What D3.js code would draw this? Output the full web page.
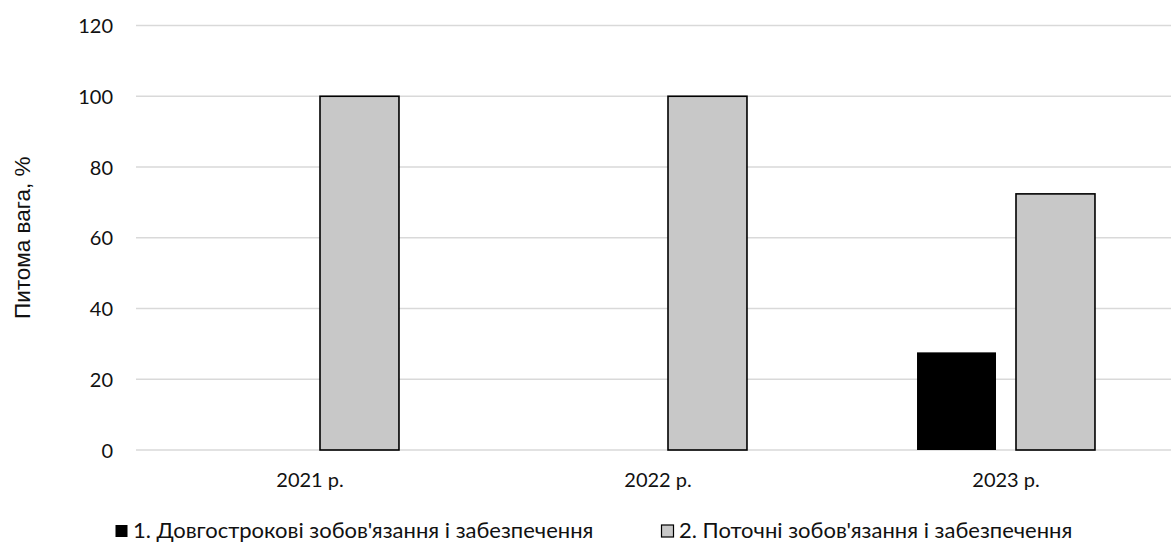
<!DOCTYPE html>
<html>
<head>
<meta charset="utf-8">
<script src="https://cdn.jsdelivr.net/npm/d3@7"></script>
<style>
  html, body { margin: 0; padding: 0; background: #fff; }
  svg { display: block; }
</style>
</head>
<body>
<svg id="chart" width="1171" height="544"></svg>
<script>
// Share of liabilities by type, %
const years = ["2021 р.", "2022 р.", "2023 р."];
const seriesNames = [
  "1. Довгострокові зобов'язання і забезпечення",
  "2. Поточні зобов'язання і забезпечення"
];
const longTerm = [0, 0, 27.6];
const current = [100, 100, 72.4];
const yTicks = [0, 20, 40, 60, 80, 100, 120];
const yTitle = "Питома вага, %";

const fills = ["#000000", "#c8c8c8"];
const tickFont = "Lato, 'Open Sans', sans-serif";

const svg = d3.select("#chart");
const W = 1171, H = 544;
const margin = { left: 136, right: -9, top: 25.5, bottom: 94 };

const x0 = d3.scaleBand()
  .domain(years)
  .range([margin.left, W - margin.right])
  .paddingInner(0)
  .paddingOuter(0);

const x1 = d3.scaleBand()
  .domain([0, 1])
  .range([0, x0.bandwidth()])
  .paddingInner(0.202)
  .paddingOuter(0.859);

const y = d3.scaleLinear()
  .domain([0, 120])
  .range([H - margin.bottom, margin.top]);

// horizontal grid
svg.append("g")
  .selectAll("line")
  .data(yTicks)
  .join("line")
  .attr("x1", margin.left)
  .attr("x2", W)
  .attr("y1", d => y(d))
  .attr("y2", d => y(d))
  .attr("stroke", "#d9d9d9")
  .attr("stroke-width", 1.3);

// y axis labels
const yAxis = d3.axisLeft(y).tickValues(yTicks).tickSize(0).tickPadding(0);
const gy = svg.append("g")
  .attr("transform", `translate(113,0)`)
  .call(yAxis);
gy.select(".domain").remove();
gy.selectAll("text")
  .attr("font-family", tickFont)
  .attr("font-size", 20)
  .attr("fill", "#111")
  .attr("dy", "0.36em");

// bars
const rows = years.map((yr, i) => ({ yr, vals: [longTerm[i], current[i]] }));
const groups = svg.append("g")
  .selectAll("g")
  .data(rows)
  .join("g")
  .attr("transform", d => `translate(${x0(d.yr)},0)`);

groups.selectAll("rect")
  .data(d => d.vals.map((v, k) => ({ v, k })).filter(e => e.v > 0))
  .join("rect")
  .attr("x", d => x1(d.k))
  .attr("width", x1.bandwidth())
  .attr("y", d => y(d.v))
  .attr("height", d => y(0) - y(d.v))
  .attr("fill", d => fills[d.k])
  .attr("stroke", "#000")
  .attr("stroke-width", d => d.k === 1 ? 1.6 : 0);

// x axis labels
const xAxis = d3.axisBottom(x0).tickSize(0).tickPadding(0);
const gx = svg.append("g")
  .attr("transform", `translate(0,${y(0) + 37})`)
  .call(xAxis);
gx.select(".domain").remove();
gx.selectAll("text")
  .attr("font-family", tickFont)
  .attr("font-size", 20)
  .attr("fill", "#111")
  .attr("dy", "0");

// y axis title
svg.append("text")
  .attr("transform", `translate(30,${(y(0) + y(120)) / 2}) rotate(-90)`)
  .attr("text-anchor", "middle")
  .attr("font-family", "'Liberation Sans', Arial, sans-serif")
  .attr("font-size", 22.5)
  .attr("fill", "#111")
  .text(yTitle);

// legend
const legendX = [115, 661];
const lg = svg.append("g")
  .selectAll("g")
  .data(seriesNames)
  .join("g")
  .attr("transform", (d, i) => `translate(${legendX[i]},538)`);

lg.append("rect")
  .attr("x", 0.5)
  .attr("y", -13)
  .attr("width", 12)
  .attr("height", 12)
  .attr("fill", (d, i) => fills[i])
  .attr("stroke", "#000")
  .attr("stroke-width", (d, i) => i === 1 ? 1.2 : 0);

lg.append("text")
  .attr("x", 18)
  .attr("y", 0)
  .attr("font-family", tickFont)
  .attr("font-size", 22)
  .attr("fill", "#111")
  .text(d => d);
</script>
</body>
</html>
